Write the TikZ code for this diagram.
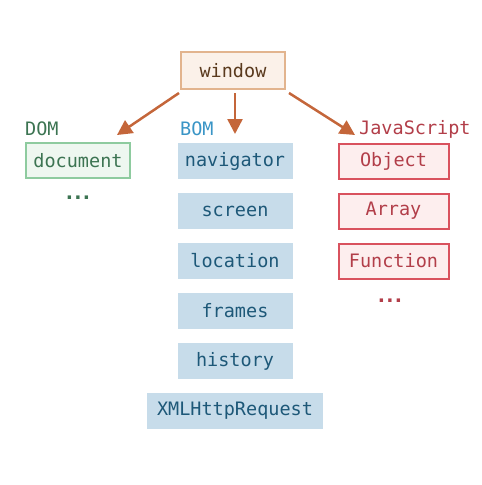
\documentclass[tikz,border=0pt]{standalone}
\usepackage{fontspec}
\setmonofont{DejaVu Sans Mono}
\setsansfont{DejaVu Sans}
\usetikzlibrary{arrows.meta}
\definecolor{winfill}{HTML}{FBF1E9}
\definecolor{windraw}{HTML}{E2B48E}
\definecolor{wintext}{HTML}{5A3A1E}
\definecolor{arrowc}{HTML}{C4663A}
\definecolor{domfill}{HTML}{EEF7F0}
\definecolor{domdraw}{HTML}{8ECB9F}
\definecolor{domtext}{HTML}{3C7452}
\definecolor{bomfill}{HTML}{C7DCEA}
\definecolor{bomtext}{HTML}{1D5878}
\definecolor{bomlabel}{HTML}{3A95C6}
\definecolor{jsfill}{HTML}{FDEEEE}
\definecolor{jsdraw}{HTML}{D9525E}
\definecolor{jstext}{HTML}{B23E49}
\begin{document}
\begin{tikzpicture}[x=1pt,y=-1pt,
  every node/.style={font=\fontsize{18.5}{20}\selectfont\ttfamily, inner sep=0pt},
  winbox/.style={draw=windraw, fill=winfill, line width=2pt, text=wintext, minimum width=104pt, minimum height=37pt},
  dombox/.style={draw=domdraw, fill=domfill, line width=2pt, text=domtext, minimum width=104pt, minimum height=35pt},
  bombox/.style={fill=bomfill, text=bomtext, minimum width=115pt, minimum height=36pt},
  jsbox/.style={draw=jsdraw, fill=jsfill, line width=2pt, text=jstext, minimum width=110pt, minimum height=35pt},
  dots/.style={font=\fontsize{19}{22}\selectfont\sffamily\bfseries, anchor=base},
  conn/.style={draw=arrowc, line width=2.5pt, -{Triangle[length=15pt,width=15pt]}}
]
\useasboundingbox (0,0) rectangle (482,485);
\node[winbox] (window) at (233,70.5) {window};
\node[dombox] (document) at (78,160.5) {document};
\node[text=domtext, anchor=west] (domlab) at (25,129) {DOM};
\node[text=domtext, dots] (domdots) at (78,199.5) {.\kern1.3pt.\kern1.3pt.};

\node[text=bomlabel, anchor=west] (bomlab) at (180,129) {BOM};
\node[bombox] (navigator) at (235,161) {navigator};
\node[bombox] (screen) at (235,211) {screen};
\node[bombox] (location) at (235,261) {location};
\node[bombox] (frames) at (235,311) {frames};
\node[bombox] (history) at (235,361) {history};
\node[bombox, minimum width=176pt] (xhr) at (235,411) {XMLHttpRequest};

\node[text=jstext, anchor=west] (jslab) at (359,129.5) {JavaScript};
\node[jsbox] (object) at (393.5,161) {Object};
\node[jsbox] (array) at (393.5,211) {Array};
\node[jsbox] (function) at (393.5,261) {Function};
\node[text=jstext, dots] (jsdots) at (390,302.5) {.\kern1.3pt.\kern1.3pt.};

\coordinate (ls) at (179,93);
\coordinate (lt) at (117,135);
\coordinate (ms) at (235,93);
\coordinate (mt) at (235,134);
\coordinate (rs) at (289,93);
\coordinate (rt) at (355,135);
\draw[conn] (ls) -- (lt);
\draw[conn] (ms) -- (mt);
\draw[conn] (rs) -- (rt);
\end{tikzpicture}
\end{document}
